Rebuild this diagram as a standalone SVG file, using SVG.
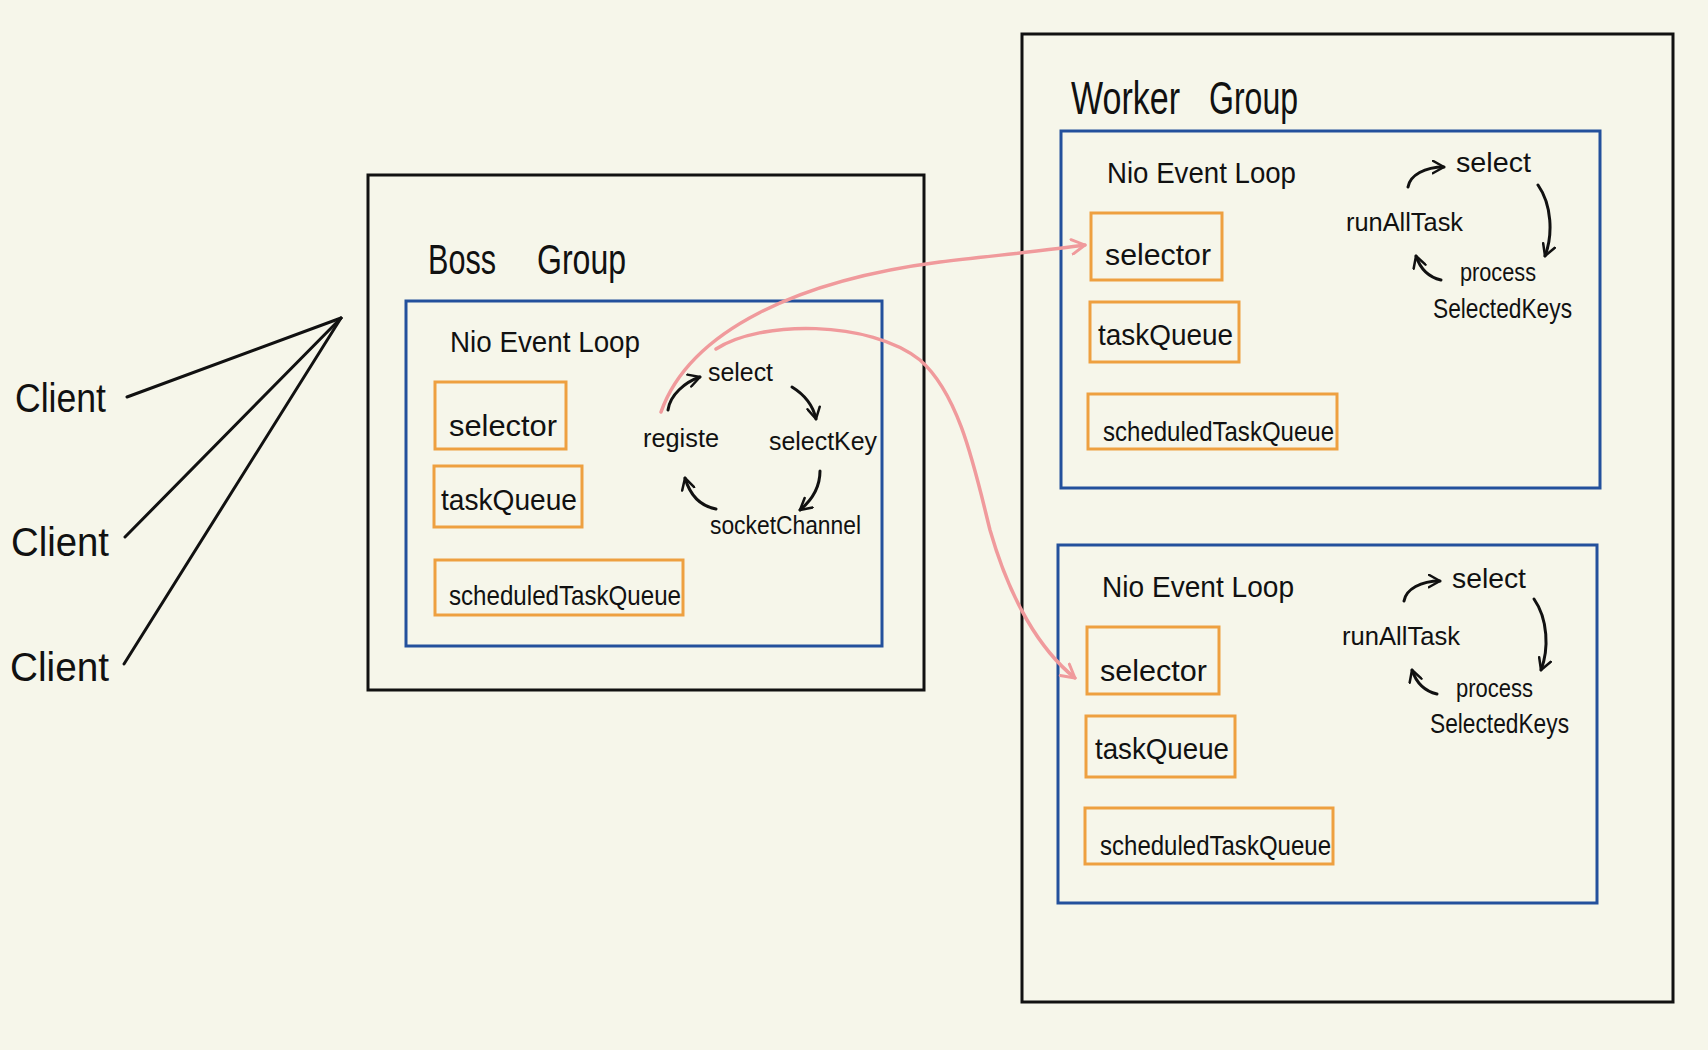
<svg xmlns="http://www.w3.org/2000/svg" width="1708" height="1050" viewBox="0 0 1708 1050">
<style>
.bg{fill:#f6f6ea}
.outer{fill:none;stroke:#111;stroke-width:3}
.loop{fill:none;stroke:#23509c;stroke-width:3}
.item{fill:none;stroke:#eea040;stroke-width:3}
.t{font-family:"Liberation Sans Narrow","Liberation Sans",sans-serif;fill:#111}
.ink{fill:none;stroke:#111;stroke-width:3;stroke-linecap:round}
.pink{fill:none;stroke:#f09a9c;stroke-width:3.5;stroke-linecap:round}
</style>
<defs>
<marker id="ah" viewBox="0 0 12 12" refX="10" refY="6" markerWidth="5" markerHeight="5" orient="auto" markerUnits="strokeWidth">
<path d="M1,1 L10,6 L1,11" fill="none" stroke="#111" stroke-width="2" stroke-linecap="round" stroke-linejoin="round"/>
</marker>
<marker id="ahp" viewBox="0 0 12 12" refX="10" refY="6" markerWidth="5" markerHeight="5" orient="auto" markerUnits="strokeWidth">
<path d="M1,1 L10,6 L1,11" fill="none" stroke="#f09a9c" stroke-width="2" stroke-linecap="round" stroke-linejoin="round"/>
</marker>
</defs>
<rect class="bg" x="0" y="0" width="1708" height="1050"/>

<g id="clients">
<text class="t" x="15" y="412" font-size="40" textLength="91" lengthAdjust="spacingAndGlyphs">Client</text>
<text class="t" x="11" y="556" font-size="40" textLength="98" lengthAdjust="spacingAndGlyphs">Client</text>
<text class="t" x="10" y="681" font-size="40" textLength="99" lengthAdjust="spacingAndGlyphs">Client</text>
</g>

<g id="boss-group">
<rect class="outer" x="368" y="175" width="556" height="515"/>
<text class="t" y="274" font-size="42"><tspan x="428" textLength="68" lengthAdjust="spacingAndGlyphs">Boss</tspan> <tspan x="537" textLength="89" lengthAdjust="spacingAndGlyphs">Group</tspan></text>
<g id="boss-loop">
<rect class="loop" x="406" y="301" width="476" height="345"/>
<text class="t" x="450" y="352" font-size="30" textLength="190" lengthAdjust="spacingAndGlyphs">Nio Event Loop</text>
<g id="boss-selector"><rect class="item" x="435" y="382" width="131" height="67"/><text class="t" x="449" y="436" font-size="30" textLength="108" lengthAdjust="spacingAndGlyphs">selector</text></g>
<g id="boss-taskQueue"><rect class="item" x="434" y="466" width="148" height="61"/><text class="t" x="441" y="510" font-size="30" textLength="136" lengthAdjust="spacingAndGlyphs">taskQueue</text></g>
<g id="boss-scheduledTaskQueue"><rect class="item" x="435" y="560" width="248" height="55"/><text class="t" x="449" y="605" font-size="28" textLength="232" lengthAdjust="spacingAndGlyphs">scheduledTaskQueue</text></g>
<text class="t" x="708" y="381" font-size="26" textLength="65" lengthAdjust="spacingAndGlyphs">select</text>
<text class="t" x="643" y="447" font-size="26" textLength="76" lengthAdjust="spacingAndGlyphs">registe</text>
<text class="t" x="769" y="450" font-size="26" textLength="108" lengthAdjust="spacingAndGlyphs">selectKey</text>
<text class="t" x="710" y="534" font-size="26" textLength="151" lengthAdjust="spacingAndGlyphs">socketChannel</text>
</g>
</g>

<g id="worker-group">
<rect class="outer" x="1022" y="34" width="651" height="968"/>
<text class="t" y="114" font-size="46"><tspan x="1071" textLength="109" lengthAdjust="spacingAndGlyphs">Worker</tspan> <tspan x="1209" textLength="89" lengthAdjust="spacingAndGlyphs">Group</tspan></text>
<g id="worker-loop-1">
<rect class="loop" x="1061" y="131" width="539" height="357"/>
<text class="t" x="1107" y="183" font-size="30" textLength="189" lengthAdjust="spacingAndGlyphs">Nio Event Loop</text>
<g id="w1-selector"><rect class="item" x="1091" y="213" width="131" height="67"/><text class="t" x="1105" y="265" font-size="30" textLength="106" lengthAdjust="spacingAndGlyphs">selector</text></g>
<g id="w1-taskQueue"><rect class="item" x="1090" y="302" width="149" height="60"/><text class="t" x="1098" y="345" font-size="30" textLength="135" lengthAdjust="spacingAndGlyphs">taskQueue</text></g>
<g id="w1-scheduledTaskQueue"><rect class="item" x="1088" y="394" width="249" height="55"/><text class="t" x="1103" y="441" font-size="28" textLength="231" lengthAdjust="spacingAndGlyphs">scheduledTaskQueue</text></g>
<text class="t" x="1456" y="172" font-size="28" textLength="75" lengthAdjust="spacingAndGlyphs">select</text>
<text class="t" x="1346" y="231" font-size="26" textLength="117" lengthAdjust="spacingAndGlyphs">runAllTask</text>
<text class="t" x="1460" y="281" font-size="26" textLength="76" lengthAdjust="spacingAndGlyphs">process</text>
<text class="t" x="1433" y="318" font-size="28" textLength="139" lengthAdjust="spacingAndGlyphs">SelectedKeys</text>
</g>
<g id="worker-loop-2">
<rect class="loop" x="1058" y="545" width="539" height="358"/>
<text class="t" x="1102" y="597" font-size="30" textLength="192" lengthAdjust="spacingAndGlyphs">Nio Event Loop</text>
<g id="w2-selector"><rect class="item" x="1087" y="627" width="132" height="67"/><text class="t" x="1100" y="681" font-size="30" textLength="107" lengthAdjust="spacingAndGlyphs">selector</text></g>
<g id="w2-taskQueue"><rect class="item" x="1086" y="716" width="149" height="61"/><text class="t" x="1095" y="759" font-size="30" textLength="134" lengthAdjust="spacingAndGlyphs">taskQueue</text></g>
<g id="w2-scheduledTaskQueue"><rect class="item" x="1085" y="808" width="248" height="56"/><text class="t" x="1100" y="855" font-size="28" textLength="231" lengthAdjust="spacingAndGlyphs">scheduledTaskQueue</text></g>
<text class="t" x="1452" y="588" font-size="28" textLength="74" lengthAdjust="spacingAndGlyphs">select</text>
<text class="t" x="1342" y="645" font-size="26" textLength="118" lengthAdjust="spacingAndGlyphs">runAllTask</text>
<text class="t" x="1456" y="697" font-size="26" textLength="77" lengthAdjust="spacingAndGlyphs">process</text>
<text class="t" x="1430" y="733" font-size="28" textLength="139" lengthAdjust="spacingAndGlyphs">SelectedKeys</text>
</g>
</g>

<g id="connectors">
<path class="ink" d="M127,397 L341,318"/>
<path class="ink" d="M125,537 L341,318"/>
<path class="ink" d="M124,664 L341,318"/>

<path class="ink" marker-end="url(#ah)" d="M668,410 C670,395 685,382 700,377"/>
<path class="ink" marker-end="url(#ah)" d="M792,387 C805,395 813,405 816,419"/>
<path class="ink" marker-end="url(#ah)" d="M820,471 C820,488 812,500 800,510"/>
<path class="ink" marker-end="url(#ah)" d="M716,509 C700,506 690,495 685,478"/>

<path class="ink" marker-end="url(#ah)" d="M1408,187 C1410,175 1425,167 1444,167"/>
<path class="ink" marker-end="url(#ah)" d="M1538,185 C1552,205 1553,235 1545,256"/>
<path class="ink" marker-end="url(#ah)" d="M1441,280 C1428,277 1420,268 1416,256"/>

<path class="ink" marker-end="url(#ah)" d="M1404,601 C1406,589 1421,581 1440,581"/>
<path class="ink" marker-end="url(#ah)" d="M1534,599 C1548,619 1549,649 1541,670"/>
<path class="ink" marker-end="url(#ah)" d="M1437,694 C1424,691 1416,682 1412,670"/>

<path class="pink" marker-end="url(#ahp)" d="M661,412 C690,330 800,280 940,262 C1000,255 1050,250 1085,245"/>
<path class="pink" marker-end="url(#ahp)" d="M716,349 C760,320 870,320 920,360 C960,395 975,470 990,530 C1010,600 1040,650 1075,678"/>
</g>
</svg>
